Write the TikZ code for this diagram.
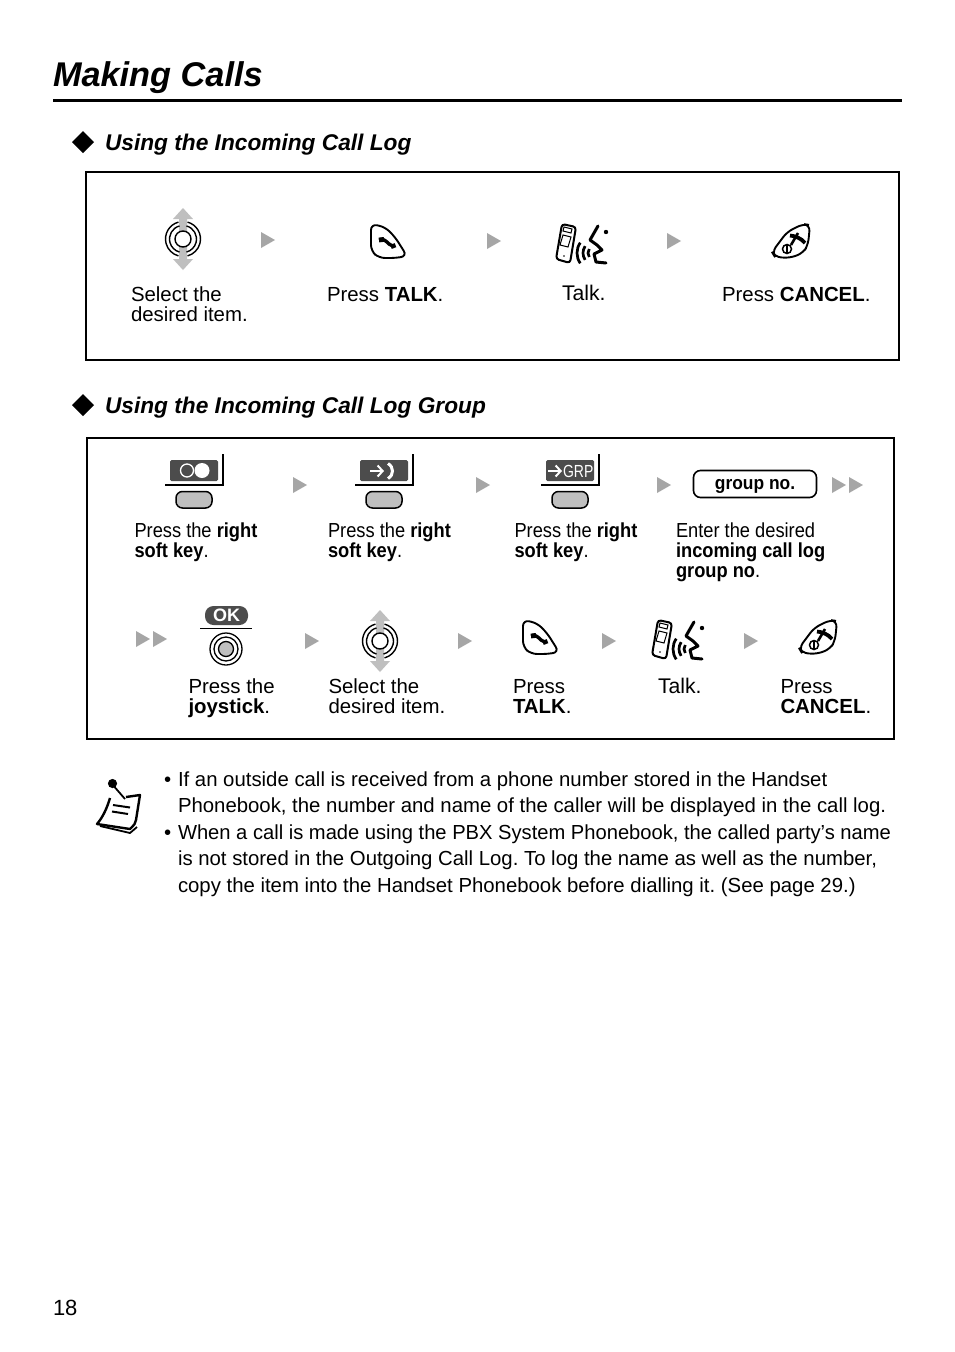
\documentclass[tikz,border=0pt]{standalone}
\usepackage{fontspec}
\usetikzlibrary{arrows.meta}
\setmainfont{Liberation Sans}
\begin{document}
\frenchspacing
\begin{tikzpicture}[x=1pt,y=-1pt,
 every node/.style={inner sep=0pt,outer sep=0pt,anchor=base west},
 body/.style={font=\fontsize{20.4}{20}\selectfont,align=left},
 cond/.style={font=\fontsize{20.3}{20}\selectfont,align=left,xscale=0.9,transform shape},
 notetext/.style={font=\fontsize{20.35}{26.5}\selectfont,align=left},
 headtext/.style={font=\fontsize{22.7}{28}\selectfont\bfseries\itshape},
 nexttri/.style={fill=black!35,draw=none},
 dark/.style={fill=black!70},
 pics/nextarrow/.style={code={\fill[nexttri] (-7,-8)--(7,0)--(-7,8)--cycle;}},
 pics/doublearrow/.style={code={\fill[nexttri] (-16,-8)--(-2,0)--(-16,8)--cycle;\fill[nexttri] (1,-8)--(15,0)--(1,8)--cycle;}},
 pics/joystick/.style={code={
   \fill[black!25] (0,-31)--(10,-20)--(4,-20)--(4,20)--(10,20)--(0,31)--(-10,20)--(-4,20)--(-4,-20)--(-10,-20)--cycle;
   \draw[line width=1.4pt,fill=white] (0,0) circle (8);
   \foreach \r in {13.5,17.5}{
     \draw[line width=1.4pt] (-105:\r) arc[start angle=-105,end angle=-255,radius=\r];
     \draw[line width=1.4pt] (-75:\r) arc[start angle=-75,end angle=75,radius=\r];}
 }},
 pics/talkkey/.style={code={
   \draw[line width=1.9pt,rounded corners=6pt] (-17,-19)--(-3,-16)--(7,-6)--(19,13)--(8,15)--(-9,15)--(-17,8)--cycle;
   \draw[line width=3.4pt] (-9,-3) .. controls (-5,-5) and (-2,-2) .. (1,1) .. controls (3,2) and (5,3) .. (6,4);
   \draw[line width=4.8pt] (-9,-3)--(-4,-3.6);
   \draw[line width=4.8pt] (4.5,1)--(6,5);
 }},
 pics/cancelkey/.style={code={
   \draw[line width=1.9pt,rounded corners=6pt] (-20,10)--(-5,-10)--(11,-18)--(18,-17)--(16,3)--(11,11)--(-2,16)--(-17,15)--cycle;
   \draw[line width=1.5pt] (-5,7) circle (4.5);
   \draw[line width=1.5pt] (-5,2.5)--(-5,11.5);
   \draw[line width=3.8pt] (-2,-6.5) .. controls (3,-6) and (9,-4) .. (13,1);
   \draw[line width=2.6pt] (6,-9)--(-1,3);
 }},
 pics/talking/.style={code={
   \draw[line width=2pt,rounded corners=3pt,fill=white] (-21,-20)--(-7,-17)--(-13,19)--(-27,15)--cycle;
   \draw[line width=1pt] (-19,-17)--(-11,-15)--(-12,-11)--(-20,-13)--cycle;
   \draw[line width=1pt] (-20,-9)--(-12,-7)--(-15,3)--(-23,1)--cycle;
   \fill (-19,12) circle (.9);
   \foreach \r in {7,12,18}{\draw[line width=2.7pt] (12,9) ++(145:\r) arc[start angle=145,end angle=215,radius=\r];}
   \draw[line width=3pt,line join=round,line cap=round] (15,-18)--(7,-4)--(14,1)--(19,6)--(11,10)--(13,18)--(23,19);
   \fill (23,-12) circle (2.2);
 }},
 pics/softkey/.style={code={
   \draw[line width=1.5pt] (-29,15)--(29,15)--(29,-16);
   \draw[line width=1.5pt,fill=black!25,rounded corners=6.5pt] (-18,21.5) rectangle (18,38);
 }},
]
\useasboundingbox (0,0) rectangle (954,1352);
\fill[white] (0,0) rectangle (954,1352);

\node (title) at (53,86) {\fontsize{34.3}{40}\selectfont\bfseries\itshape Making Calls};
\draw[line width=3pt] (53,100)--(902,100);

\fill (83,131)--(94,142)--(83,153)--(72,142)--cycle;
\node[headtext] (h1) at (105,150) {Using the Incoming Call Log};
\draw[line width=1.2pt] (86,172) rectangle (899,360);

\pic at (183,239) {joystick};
\pic at (268,240) {nextarrow};
\pic at (388,243) {talkkey};
\pic at (494,241) {nextarrow};
\pic at (583,244) {talking};
\pic at (674,241) {nextarrow};
\pic at (792,242) {cancelkey};
\node[body] (a1) at (131,321) {Select the\\desired item.};
\node[body] (a2) at (327,301) {Press \textbf{TALK}.};
\node[body,font=\fontsize{21.2}{20}\selectfont] (a3) at (562,300) {Talk.};
\node[body] (a4) at (722,301) {Press \textbf{CANCEL}.};

\fill (83,394)--(94,405)--(83,416)--(72,405)--cycle;
\node[headtext] (h2) at (105,413) {Using the Incoming Call Log Group};
\draw[line width=1.2pt] (87,438) rectangle (894,739);

% first row
\pic at (194,470) {softkey};
\fill[dark,rounded corners=1.5pt] (170,460) rectangle (218,481);
\draw[white,line width=1.3pt] (187,470.5) circle (6.5);
\fill[white] (202,470.5) circle (7.5);
\pic at (300,485) {nextarrow};
\pic at (384,470) {softkey};
\fill[dark,rounded corners=1.5pt] (360,460) rectangle (408,481);
\draw[white,line width=2pt,-{Straight Barb[length=5pt,width=11pt,line width=2pt]}] (370,471)--(384,471);
\draw[white,line width=3pt] (388,463.5) .. controls (394,467) and (394,475) .. (388,478.5);
\pic at (483,485) {nextarrow};
\pic at (570,470) {softkey};
\fill[dark,rounded corners=1.5pt] (546,460) rectangle (594,481);
\draw[white,line width=2pt,-{Straight Barb[length=5pt,width=11pt,line width=2pt]}] (548,471)--(562,471);
\node[white,xscale=0.8,transform shape] (grp) at (563,477.5) {\fontsize{17.5}{18}\selectfont GRP};
\pic at (664,485) {nextarrow};
\node[draw,line width=1.6pt,rounded corners=7pt,minimum width=123pt,minimum height=27pt,anchor=center,font=\fontsize{18.7}{20}\selectfont\bfseries] (gn) at (755,484) {\raisebox{-5pt}[0pt][0pt]{\scalebox{0.93}[1]{group no.}}};
\pic at (848,485) {doublearrow};
\node[cond] (b1) at (134.5,557) {Press the \textbf{right}\\\textbf{soft key}.};
\node[cond] (b2) at (328,557) {Press the \textbf{right}\\\textbf{soft key}.};
\node[cond] (b3) at (514.5,557) {Press the \textbf{right}\\\textbf{soft key}.};
\node[cond] (b4) at (676,577) {Enter the desired\\\textbf{incoming call log}\\\textbf{group no}.};

% second row
\pic at (152,639) {doublearrow};
\fill[dark,rounded corners=8.5pt] (205,606) rectangle (248,625);
\node[white,anchor=center] (ok) at (226.5,615.5) {\fontsize{18}{18}\selectfont\bfseries OK};
\draw[line width=1.5pt] (200,628.5)--(252,628.5);
\draw[line width=1.3pt] (226,649) circle (16);
\draw[line width=1.3pt] (226,649) circle (12);
\draw[line width=1.3pt,fill=black!25] (226,649) circle (7.5);
\pic at (312,641) {nextarrow};
\pic at (380,641) {joystick};
\pic at (465,641) {nextarrow};
\pic at (540,639) {talkkey};
\pic at (609,641) {nextarrow};
\pic at (679,640) {talking};
\pic at (751,641) {nextarrow};
\pic at (819,638) {cancelkey};
\node[body] (c1) at (188.5,713) {Press the\\\textbf{joystick}.};
\node[body] (c2) at (328.5,713) {Select the\\desired item.};
\node[body] (c3) at (513,713) {Press\\\textbf{TALK}.};
\node[body,font=\fontsize{21.2}{20}\selectfont] (c4) at (658,693) {Talk.};
\node[body] (c5) at (780.5,713) {Press\\\textbf{CANCEL}.};

% note icon
\draw[line width=1.8pt,line join=round] (100,826) -- (130,833) -- (137,827);
\draw[line width=2.4pt,line join=round,fill=white] (110,798) .. controls (107,808) and (103,817) .. (97,824) -- (130,829) .. controls (134,825) and (136,823) .. (136,820) -- (140,795) -- (126,797);
\draw[line width=2pt] (113,805)--(130,807.5);
\draw[line width=2pt] (112,811.5)--(128,814);
\draw[line width=1.8pt] (112,784)--(125,799);
\fill (112.5,783.5) circle (4.6);

\node[notetext] (n1) at (164,786) {•};
\node[notetext] (n2) at (178,812.5) {If an outside call is received from a phone number stored in the Handset\\Phonebook, the number and name of the caller will be displayed in the call log.};
\node[notetext] (n3) at (164,839) {•};
\node[notetext] (n4) at (178,892) {\scalebox{0.99}[1]{When a call is made using the PBX System Phonebook, the called party’s name}\\is not stored in the Outgoing Call Log. To log the name as well as the number,\\copy the item into the Handset Phonebook before dialling it. (See page 29.)};

\node[font=\fontsize{22}{26}\selectfont] (pg) at (53,1315) {18};
\end{tikzpicture}
\end{document}
